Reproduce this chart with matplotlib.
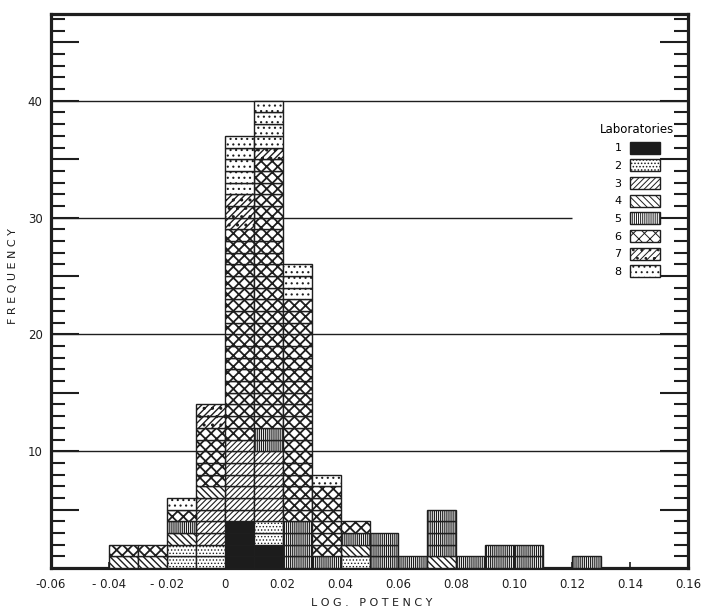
import matplotlib
matplotlib.use('Agg')
import matplotlib.pyplot as plt
import numpy as np
from matplotlib.patches import Patch

# ---- data -------------------------------------------------------------
bin_left = [-0.04, -0.03, -0.02, -0.01, 0.00, 0.01, 0.02, 0.03, 0.04,
            0.05, 0.06, 0.07, 0.08, 0.09, 0.10, 0.11, 0.12]
bin_width = 0.01

lab_names = ['1', '2', '3', '4', '5', '6', '7', '8']
lab1 = [0, 0, 0, 0, 4, 2, 0, 0, 0, 0, 0, 0, 0, 0, 0, 0, 0]
lab2 = [0, 0, 2, 2, 0, 2, 0, 0, 1, 0, 0, 0, 0, 0, 0, 0, 0]
lab3 = [0, 0, 0, 4, 7, 6, 0, 0, 0, 0, 0, 0, 0, 0, 0, 0, 0]
lab4 = [1, 1, 1, 1, 0, 0, 0, 0, 1, 0, 0, 1, 0, 0, 0, 0, 0]
lab5 = [0, 0, 1, 0, 0, 2, 4, 1, 1, 3, 1, 4, 1, 2, 2, 0, 1]
lab6 = [1, 1, 1, 5, 18, 23, 19, 6, 1, 0, 0, 0, 0, 0, 0, 0, 0]
lab7 = [0, 0, 0, 2, 3, 1, 0, 0, 0, 0, 0, 0, 0, 0, 0, 0, 0]
lab8 = [0, 0, 1, 0, 5, 4, 3, 1, 0, 0, 0, 0, 0, 0, 0, 0, 0]
series = [lab1, lab2, lab3, lab4, lab5, lab6, lab7, lab8]

x_tick_values = [-0.06, -0.04, -0.02, 0.0, 0.02, 0.04, 0.06, 0.08, 0.10, 0.12, 0.14, 0.16]
x_tick_labels = ['-0.06', '- 0.04', '- 0.02', '0', '0.02', '0.04', '0.06', '0.08',
                 '0.10', '0.12', '0.14', '0.16']
grid_levels = [10, 20, 30, 40]
grid_ends = [0.16, 0.16, 0.12, 0.16]

# ---- style ------------------------------------------------------------
ink = '#1e1e1e'
styles = [
    dict(facecolor='#1c1c1c', hatch=None, hlw=0.7),
    dict(facecolor='white', hatch='.....', hlw=0.6),
    dict(facecolor='white', hatch='//////', hlw=0.8),
    dict(facecolor='white', hatch='\\\\\\\\\\', hlw=1.0),
    dict(facecolor='white', hatch='||||||||', hlw=0.85),
    dict(facecolor='white', hatch='xxx', hlw=1.3),
    dict(facecolor='white', hatch='/////..', hlw=1.0),
    dict(facecolor='white', hatch='...', hlw=0.8),
]

plt.rcParams['hatch.linewidth'] = 0.7
plt.rcParams['font.family'] = ['Liberation Sans Narrow', 'DejaVu Sans']

fig = plt.figure(figsize=(7.01, 6.11), dpi=100)
ax = fig.add_axes([51 / 701, 1 - 568 / 611, 637 / 701, 554 / 611])


def set_hlw(patch, lw):
    if hasattr(patch, 'set_hatch_linewidth'):
        patch.set_hatch_linewidth(lw)


# reference lines
for lvl, xend in zip(grid_levels, grid_ends):
    ax.hlines(lvl, -0.06, xend, color=ink, linewidth=1.0, zorder=1)

# stacked unit boxes
cum = np.zeros(len(bin_left))
for counts, st in zip(series, styles):
    counts = np.array(counts)
    for i, (x, c) in enumerate(zip(bin_left, counts)):
        for k in range(int(c)):
            with plt.rc_context({'hatch.linewidth': st['hlw']}):
                bc = ax.bar(x, 1, width=bin_width, bottom=cum[i] + k, align='edge',
                            facecolor=st['facecolor'], edgecolor=ink, hatch=st['hatch'],
                            linewidth=1.0, zorder=3)
            for p in bc:
                set_hlw(p, st['hlw'])
    cum += counts

ax.set_xlim(-0.06, 0.16)
ax.set_ylim(0, 47.43)

# y ticks
major_y = list(range(5, 46, 5))
ax.set_yticks(major_y)
ax.set_yticklabels([str(v) if v % 10 == 0 else '' for v in major_y])
ax.set_yticks([v for v in range(1, 48) if v % 5], minor=True)
ax.tick_params(axis='y', which='major', direction='in', length=20, width=1.5,
               left=True, right=True, pad=6, labelsize=8.5, colors=ink)
ax.tick_params(axis='y', which='minor', direction='in', length=10, width=1.5,
               left=True, right=True, colors=ink)

# x ticks
ax.set_xticks(x_tick_values)
ax.set_xticklabels(x_tick_labels)
ax.tick_params(axis='x', which='major', direction='in', length=4, width=1.2,
               pad=7, labelsize=8.5, colors=ink)

for sp in ax.spines.values():
    sp.set_linewidth(2.3)
    sp.set_color(ink)

ax.text(-0.06, 0.527, 'F R E Q U E N C Y', rotation=90, transform=ax.transAxes,
        ha='center', va='center', fontsize=8, color=ink)
ax.text(0.504, -0.063, 'L O G .   P O T E N C Y', transform=ax.transAxes,
        ha='center', va='center', fontsize=8, color=ink)

handles = []
for st in styles:
    with plt.rc_context({'hatch.linewidth': st['hlw']}):
        hp = Patch(facecolor=st['facecolor'], edgecolor=ink, hatch=st['hatch'], linewidth=1.0)
    set_hlw(hp, st['hlw'])
    handles.append(hp)
leg = ax.legend(handles, lab_names, title='Laboratories', markerfirst=False, frameon=False,
                loc='upper left', bbox_to_anchor=(0.862, 0.803), fontsize=8,
                title_fontsize=8.5, handlelength=2.7, handleheight=1.3,
                labelspacing=0.5, handletextpad=0.8, borderpad=0, borderaxespad=0)

fig.savefig('out.png', dpi=100, facecolor='white')
